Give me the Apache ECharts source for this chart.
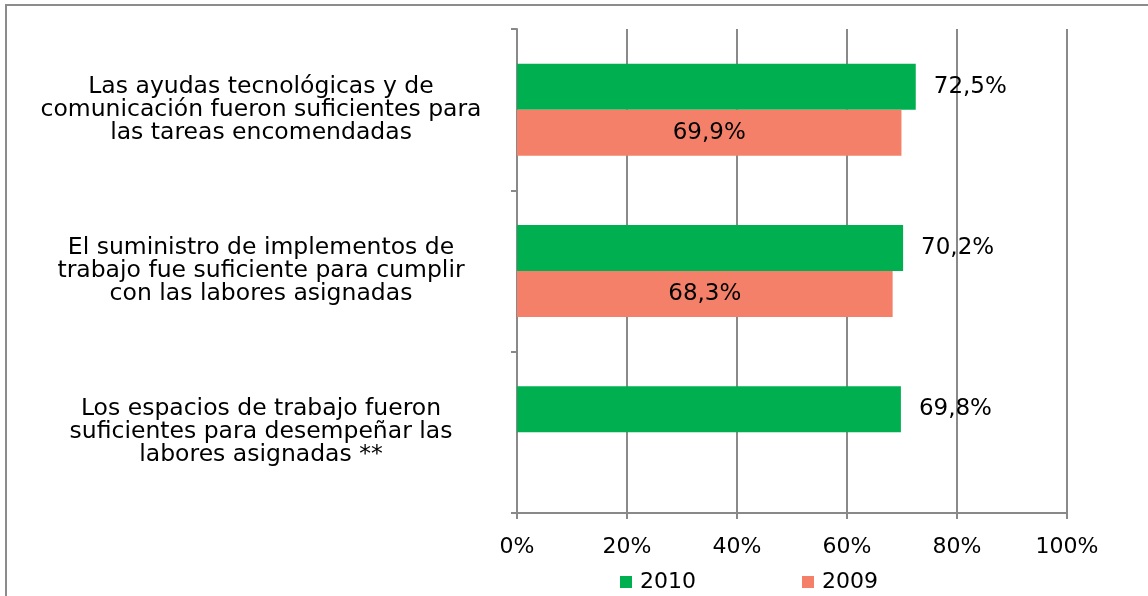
<!DOCTYPE html>
<html>
<head>
<meta charset="utf-8">
<script src="https://cdn.jsdelivr.net/npm/echarts@6/dist/echarts.min.js"></script>
<style>
  html, body { margin: 0; padding: 0; background: #ffffff; }
  #chart { width: 1148px; height: 596px; }
</style>
</head>
<body>
<div id="chart"></div>
<script>
const categories = [
  "Las ayudas tecnológicas y de\ncomunicación fueron suficientes para\nlas tareas encomendadas",
  "El suministro de implementos de\ntrabajo fue suficiente para cumplir\ncon las labores asignadas",
  "Los espacios de trabajo fueron\nsuficientes para desempeñar las\nlabores asignadas **"
];
const seriesNames = ["2010", "2009"];
const values2010 = [72.5, 70.2, 69.8];
const values2009 = [69.9, 68.3, null];
const xTicks = [0, 20, 40, 60, 80, 100];

const FONT = "DejaVu Sans";
const GRAY = "#898989";
const fmtPct = v => v.toFixed(1).replace(".", ",") + "%";

const chart = echarts.init(document.getElementById("chart"), null, { renderer: "canvas" });
chart.setOption({
  backgroundColor: "#ffffff",
  animation: false,
  textStyle: { fontFamily: FONT, color: "#000000" },
  graphic: [{
    type: "rect",
    silent: true,
    shape: { x: 6, y: 5, width: 1400, height: 800 },
    style: { fill: "none", stroke: "#8c8c8c", lineWidth: 2 }
  }],
  grid: { left: 517, right: 81, top: 29, bottom: 83, containLabel: false },
  legend: {
    data: seriesNames,
    left: 615,
    top: 566,
    icon: "rect",
    itemWidth: 12,
    itemHeight: 12,
    itemGap: 106,
    textStyle: { fontFamily: FONT, fontSize: 22, color: "#000000", padding: [0, 0, 0, 3] }
  },
  xAxis: {
    type: "value",
    min: xTicks[0],
    max: xTicks[xTicks.length - 1],
    interval: xTicks[1] - xTicks[0],
    axisLine: { show: true, lineStyle: { color: GRAY, width: 2 } },
    axisTick: { show: true, length: 6, lineStyle: { color: GRAY, width: 2 } },
    splitLine: { show: true, lineStyle: { color: GRAY, width: 2 } },
    axisLabel: {
      formatter: v => v + "%",
      fontFamily: FONT, fontSize: 22, color: "#000000", margin: 23
    }
  },
  yAxis: {
    type: "category",
    inverse: true,
    data: categories,
    axisLine: { show: true, lineStyle: { color: GRAY, width: 2 } },
    axisTick: { show: true, length: 6, lineStyle: { color: GRAY, width: 2 } },
    splitLine: { show: false },
    axisLabel: {
      align: "center",
      margin: 256,
      fontFamily: FONT, fontSize: 23.5, lineHeight: 23, color: "#000000"
    }
  },
  series: [
    {
      name: seriesNames[0],
      type: "bar",
      data: values2010,
      barGap: "0%",
      barCategoryGap: "43%",
      itemStyle: { color: "#00B050" },
      label: {
        show: true, position: "right", distance: 18,
        formatter: p => fmtPct(p.value),
        fontFamily: FONT, fontSize: 23, color: "#000000"
      }
    },
    {
      name: seriesNames[1],
      type: "bar",
      data: values2009,
      barGap: "0%",
      barCategoryGap: "43%",
      itemStyle: { color: "#F5806A" },
      label: {
        show: true, position: "inside",
        formatter: p => (p.value == null ? "" : fmtPct(p.value)),
        fontFamily: FONT, fontSize: 23, color: "#000000"
      }
    }
  ]
});
</script>
</body>
</html>
